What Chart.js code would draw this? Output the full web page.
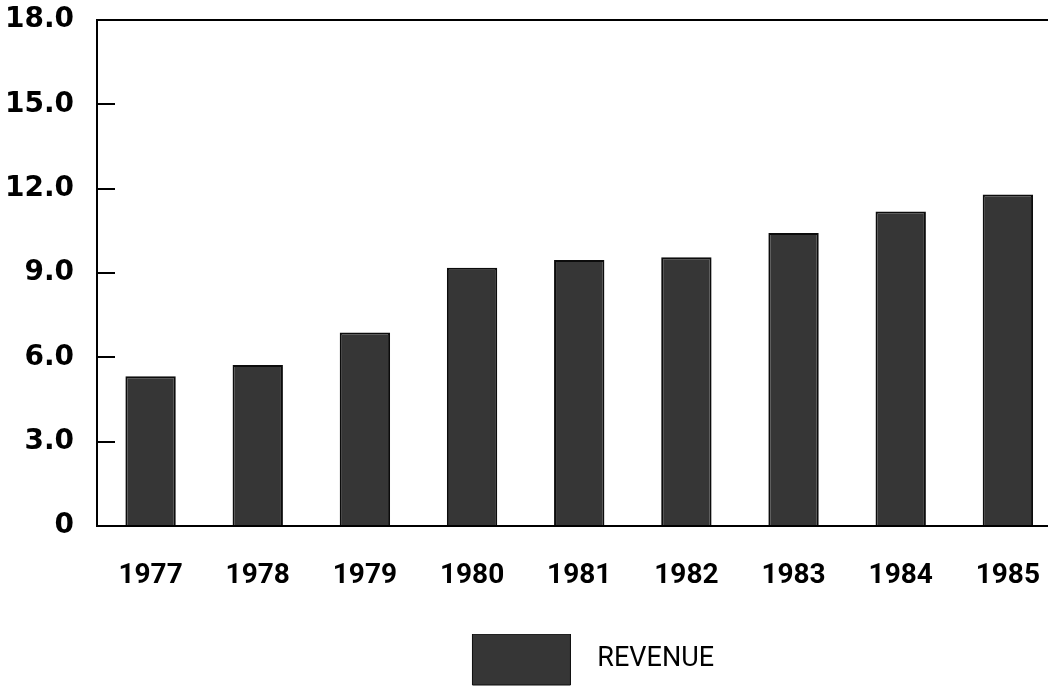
<!DOCTYPE html>
<html>
<head>
<meta charset="utf-8">
<script src="https://cdn.jsdelivr.net/npm/chart.js@4/dist/chart.umd.min.js"></script>
<style>
  html, body { margin: 0; padding: 0; background: #fff; overflow: hidden; }
  #wrap { width: 1065px; height: 686px; }
</style>
</head>
<body>
<div id="wrap"><canvas id="revenueChart" width="1065" height="686"></canvas></div>
<script>
// values
const years = ['1977', '1978', '1979', '1980', '1981', '1982', '1983', '1984', '1985'];
const revenue = [5.33, 5.73, 6.88, 9.19, 9.46, 9.56, 10.42, 11.19, 11.79];
const yTicks = [0, 3, 6, 9, 12, 15, 18];

// short tick marks pointing into the plot, drawn at the y scale's own pixels
const innerTicks = {
    id: 'innerTicks',
    afterDraw(chart) {
        const y = chart.scales.y;
        const left = chart.chartArea.left;
        const c = chart.ctx;
        c.save();
        c.strokeStyle = '#000';
        c.lineWidth = 2;
        yTicks.forEach(v => {
            if (v === 0 || v === 18) return;
            const py = Math.round(y.getPixelForValue(v));
            c.beginPath();
            c.moveTo(left, py);
            c.lineTo(left + 18, py);
            c.stroke();
        });
        c.restore();
    }
};

// the legend sits a little right of the plot centre in the original
const nudgeLegend = {
    id: 'nudgeLegend',
    afterLayout(chart) {
        if (!chart.legend) return;
        chart.legend.left += 14;
        chart.legend.right += 14;
    }
};

const ctx = document.getElementById('revenueChart').getContext('2d');
new Chart(ctx, {
    type: 'bar',
    data: {
        labels: years,
        datasets: [{
            label: 'REVENUE',
            data: revenue,
            backgroundColor: '#363636',
            borderColor: '#0c0c0c',
            borderWidth: 2,
            barPercentage: 0.47,
            categoryPercentage: 1
        }]
    },
    options: {
        responsive: false,
        animation: false,
        layout: { padding: { top: 0, left: 0, right: 0, bottom: -9 } },
        plugins: {
            tooltip: { enabled: false },
            legend: {
                position: 'bottom',
                fullSize: false,
                labels: {
                    boxWidth: 98,
                    boxHeight: 51,
                    padding: 0,
                    color: '#000',
                    font: { family: 'Roboto', size: 27 },
                    generateLabels(chart) {
                        const ds = chart.data.datasets[0];
                        return [{
                            text: '  ' + ds.label,
                            fillStyle: ds.backgroundColor,
                            strokeStyle: ds.borderColor,
                            lineWidth: 1,
                            fontColor: '#000',
                            datasetIndex: 0
                        }];
                    }
                }
            }
        },
        scales: {
            x: {
                grid: { display: false },
                border: { display: true, color: '#000', width: 2 },
                ticks: {
                    color: '#000',
                    padding: 25,
                    font: { family: 'Roboto', size: 28, weight: 'bold' }
                },
                afterFit(scale) { scale.height = 108; }
            },
            y: {
                min: 0,
                max: 18,
                afterBuildTicks(scale) {
                    scale.ticks = yTicks.map(v => ({ value: v }));
                },
                grid: {
                    drawTicks: false,
                    color: c => c.tick && c.tick.value === 18 ? '#000' : 'rgba(0,0,0,0)',
                    lineWidth: 2
                },
                border: { display: true, color: '#000', width: 2 },
                ticks: {
                    color: '#000',
                    padding: 23,
                    font: { family: 'DejaVu Sans', size: 28, weight: 'bold' },
                    callback: v => v === 0 ? '0' : v.toFixed(1)
                },
                afterFit(scale) {
                    scale.width = 97;
                    scale.paddingTop = 20;
                    scale.paddingBottom = 0;
                }
            }
        }
    },
    plugins: [innerTicks, nudgeLegend]
});
</script>
</body>
</html>
